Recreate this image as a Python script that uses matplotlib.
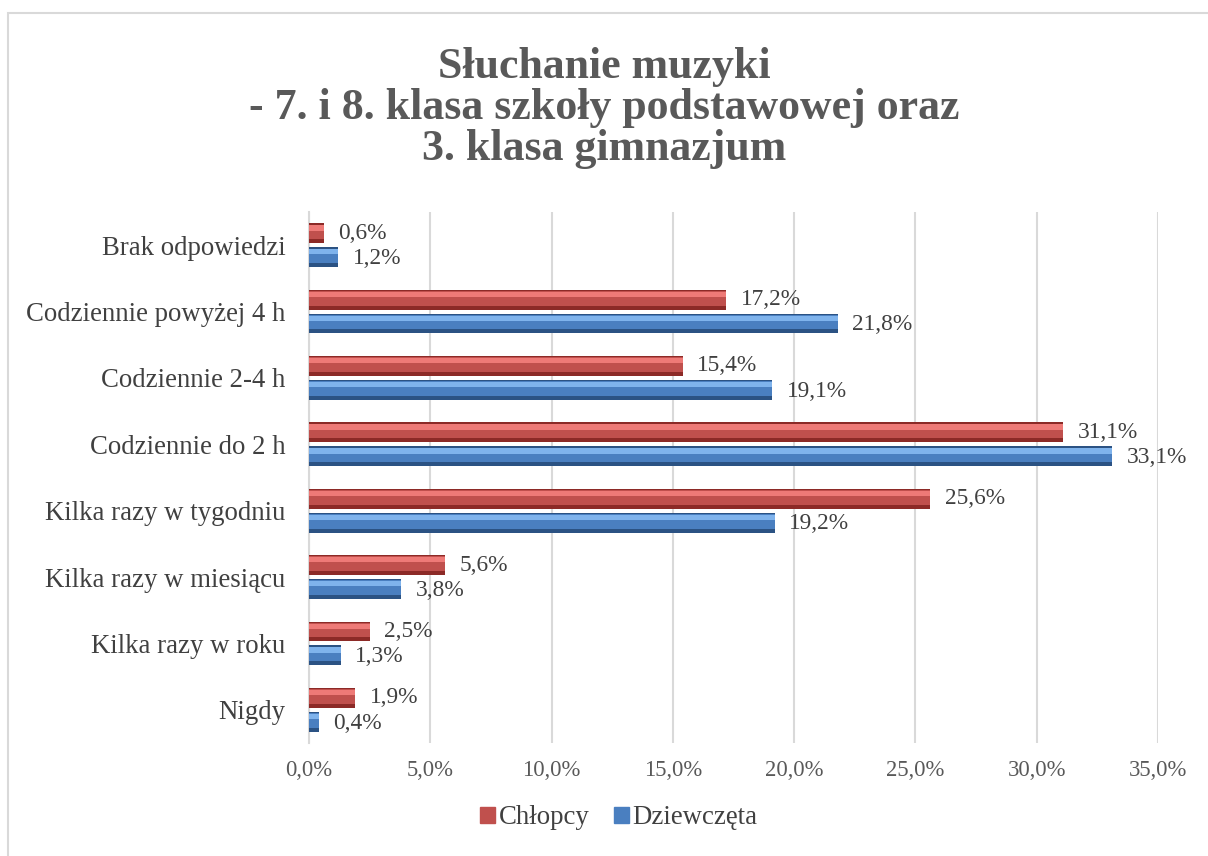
import matplotlib.pyplot as plt
import matplotlib.patches as mpatches
import numpy as np

plt.rcParams['font.family'] = ['Liberation Serif', 'DejaVu Serif']

# Dane
kategorie = ['Nigdy', 'Kilka razy w roku', 'Kilka razy w miesiącu', 'Kilka razy w tygodniu',
             'Codziennie do 2 h', 'Codziennie 2-4 h', 'Codziennie powyżej 4 h', 'Brak odpowiedzi']
chlopcy = [1.9, 2.5, 5.6, 25.6, 31.1, 15.4, 17.2, 0.6]
dziewczeta = [0.4, 1.3, 3.8, 19.2, 33.1, 19.1, 21.8, 1.2]
xticks = [0, 5, 10, 15, 20, 25, 30, 35]

fig = plt.figure(figsize=(12.08, 8.56), dpi=100)
# ramka wykresu
fig.patches.append(mpatches.Rectangle((8/1208, -0.1), 1.2, 1.1 - 13/856, transform=fig.transFigure,
                                      fill=False, edgecolor='#d9d9d9', linewidth=1.5))

ax = fig.add_axes([309/1208, 1 - 743/856, (1158-309)/1208, (743-212)/856])

y = np.arange(len(kategorie))
h = 0.30
off = 0.18

def bar3d(yy, vals, dark, mid, light, lab):
    ax.barh(yy, vals, height=h, color=dark, zorder=3, label=lab)
    ax.barh(yy + 0.02, vals, height=h - 0.08, color=mid, zorder=4)
    ax.barh(yy + 0.08, vals, height=h - 0.22, color=light, zorder=5)

bar3d(y + off, chlopcy, '#8c2a27', '#c0504d', '#ee7a77', 'Chłopcy')
bar3d(y - off, dziewczeta, '#2b5283', '#4a7fc0', '#7fb3ec', 'Dziewczęta')

for i in range(len(kategorie)):
    ax.text(chlopcy[i] + 0.6, y[i] + off, f'{chlopcy[i]:.1f}%'.replace('.', ','),
            va='center', ha='left', fontsize=16.8, color='#404040', zorder=6)
    ax.text(dziewczeta[i] + 0.6, y[i] - off - 0.02, f'{dziewczeta[i]:.1f}%'.replace('.', ','),
            va='center', ha='left', fontsize=16.8, color='#404040', zorder=6)

ax.set_xlim(0, 35)
ax.set_ylim(-0.5, len(kategorie) - 0.5)
ax.set_xticks(xticks)
ax.set_xticklabels([f'{v:.1f}%'.replace('.', ',') for v in xticks], fontsize=16.3, color='#595959')
ax.set_yticks(y)
ax.set_yticklabels(kategorie, fontsize=19.3, color='#404040')
ax.tick_params(length=0)
ax.tick_params(axis='y', pad=17)
ax.tick_params(axis='x', pad=12)
ax.grid(axis='x', color='#d9d9d9', linewidth=1.5, zorder=0)
for s in ['top', 'right', 'bottom']:
    ax.spines[s].set_visible(False)
ax.spines['left'].set_color('#d9d9d9')
ax.spines['left'].set_linewidth(1.5)

fig.text(0.5, 1 - 108/856, 'Słuchanie muzyki\n- 7. i 8. klasa szkoły podstawowej oraz\n3. klasa gimnazjum',
         ha='center', va='center', fontsize=31.6, fontweight='bold', color='#595959', linespacing=1.045)

leg = fig.legend(handles=[mpatches.Patch(color='#c0504d', label='Chłopcy'),
                          mpatches.Patch(color='#4a7fc0', label='Dziewczęta')],
                 loc='center', bbox_to_anchor=(0.5 + 15/1208, 1 - 818/856), ncol=2, frameon=False,
                 fontsize=19.3, handlelength=0.55, handleheight=0.55, handletextpad=0.15, columnspacing=0.9)
for t in leg.get_texts():
    t.set_color('#404040')

fig.savefig('out.png', dpi=100)
